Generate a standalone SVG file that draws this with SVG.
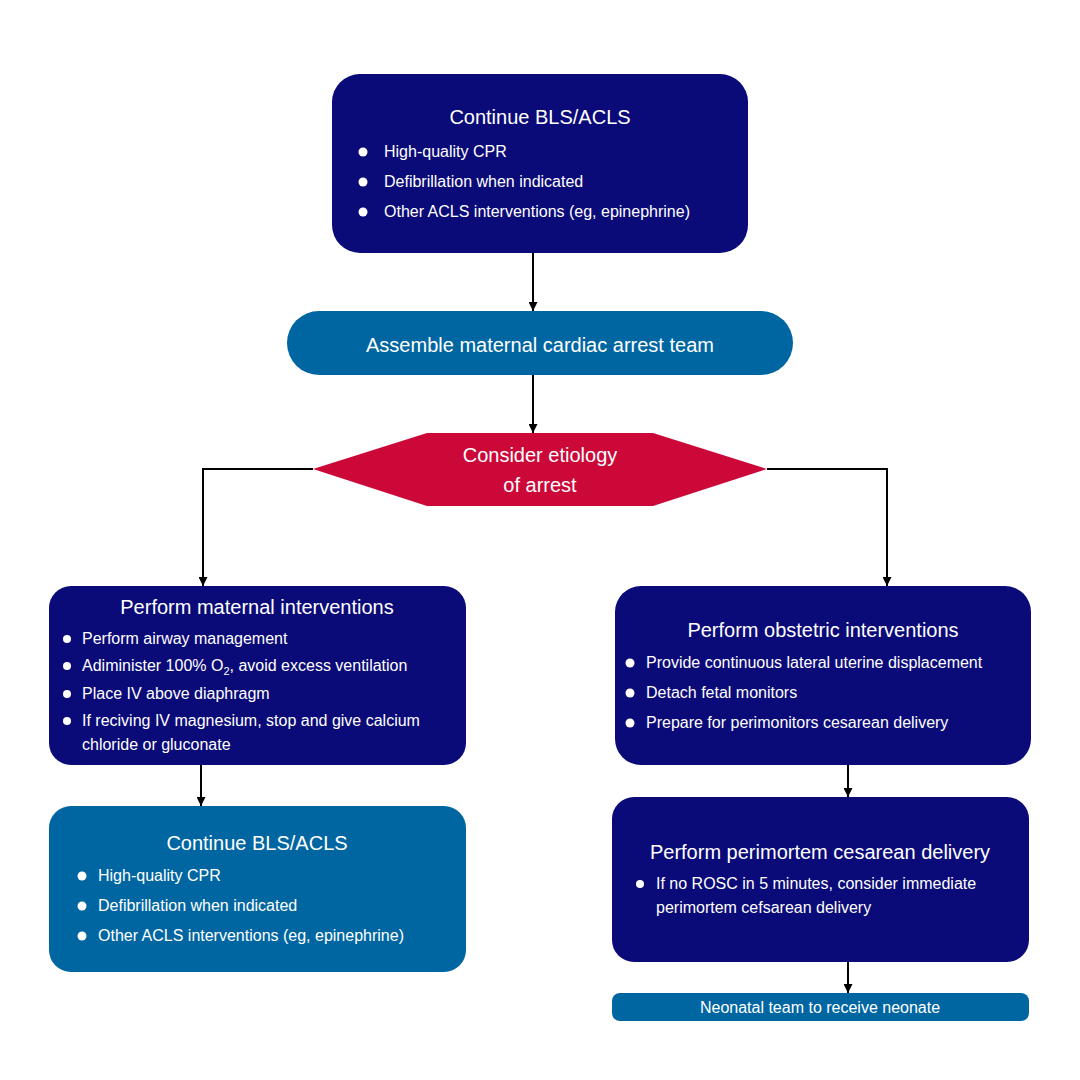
<svg xmlns="http://www.w3.org/2000/svg" width="1080" height="1080" viewBox="0 0 1080 1080">
<defs>
<marker id="ar" viewBox="0 0 10 10" refX="10" refY="5" markerWidth="9" markerHeight="9" markerUnits="userSpaceOnUse" orient="auto"><path d="M0,0L10,5L0,10z" fill="#000"/></marker>
<style>
text{font-family:"Liberation Sans",Arial,sans-serif;fill:#fff}
.t{font-size:20px;text-anchor:middle}
.b{font-size:16px}
.n{fill:#0a0a78}.u{fill:#0066a1}
.c{stroke:#000;stroke-width:2;fill:none;marker-end:url(#ar)}
</style>
</defs>
<rect width="1080" height="1080" fill="#fff"/>
<g id="connectors">
<path class="c" d="M533,253V311"/>
<path class="c" d="M533,375V433"/>
<path class="c" d="M313,469H203V586"/>
<path class="c" d="M767,469H887V586"/>
<path class="c" d="M201,765V806"/>
<path class="c" d="M848,765V797"/>
<path class="c" d="M848,962V993"/>
</g>
<g id="n1"><rect class="n" x="332" y="74" width="416" height="179" rx="28"/>
<text class="t" x="540" y="124">Continue BLS/ACLS</text>
<g fill="#fff"><circle cx="363" cy="152" r="4.5"/><circle cx="363" cy="182" r="4.5"/><circle cx="363" cy="212" r="4.5"/></g>
<text class="b" x="384" y="157">High-quality CPR</text>
<text class="b" x="384" y="187">Defibrillation when indicated</text>
<text class="b" x="384" y="217">Other ACLS interventions (eg, epinephrine)</text></g>
<g id="n2"><rect class="u" x="287" y="311" width="506" height="64" rx="32"/>
<text class="t" x="540" y="352">Assemble maternal cardiac arrest team</text></g>
<g id="n3"><polygon fill="#cc0839" points="313,469 427,433 653,433 767,469 653,506 427,506"/>
<text class="t" x="540" y="462">Consider etiology</text>
<text class="t" x="540" y="492">of arrest</text></g>
<g id="n4"><rect class="n" x="49" y="586" width="417" height="179" rx="22"/>
<text class="t" x="257" y="614">Perform maternal interventions</text>
<g fill="#fff"><circle cx="67" cy="639" r="4"/><circle cx="67" cy="666" r="4"/><circle cx="67" cy="694" r="4"/><circle cx="67" cy="721" r="4"/></g>
<text class="b" x="82" y="644">Perform airway management</text>
<text class="b" x="82" y="671">Adiminister 100% O<tspan font-size="11" dy="4">2</tspan><tspan dy="-4">, avoid excess ventilation</tspan></text>
<text class="b" x="82" y="699">Place IV above diaphragm</text>
<text class="b" x="82" y="726">If reciving IV magnesium, stop and give calcium</text>
<text class="b" x="82" y="750">chloride or gluconate</text></g>
<g id="n5"><rect class="u" x="49" y="806" width="417" height="166" rx="22"/>
<text class="t" x="257" y="850">Continue BLS/ACLS</text>
<g fill="#fff"><circle cx="82" cy="876" r="4.5"/><circle cx="82" cy="906" r="4.5"/><circle cx="82" cy="936" r="4.5"/></g>
<text class="b" x="98" y="881">High-quality CPR</text>
<text class="b" x="98" y="911">Defibrillation when indicated</text>
<text class="b" x="98" y="941">Other ACLS interventions (eg, epinephrine)</text></g>
<g id="n6"><rect class="n" x="615" y="586" width="416" height="179" rx="26"/>
<text class="t" x="823" y="637">Perform obstetric interventions</text>
<g fill="#fff"><circle cx="630" cy="663" r="4.5"/><circle cx="630" cy="693" r="4.5"/><circle cx="630" cy="723" r="4.5"/></g>
<text class="b" x="646" y="668">Provide continuous lateral uterine displacement</text>
<text class="b" x="646" y="698">Detach fetal monitors</text>
<text class="b" x="646" y="728">Prepare for perimonitors cesarean delivery</text></g>
<g id="n7"><rect class="n" x="612" y="797" width="417" height="165" rx="22"/>
<text class="t" x="820" y="859">Perform perimortem cesarean delivery</text>
<circle cx="640" cy="884" r="4" fill="#fff"/>
<text class="b" x="656" y="889">If no ROSC in 5 minutes, consider immediate</text>
<text class="b" x="656" y="913">perimortem cefsarean delivery</text></g>
<g id="n8"><rect class="u" x="612" y="993" width="417" height="28" rx="8"/>
<text x="820" y="1013" font-size="16" text-anchor="middle">Neonatal team to receive neonate</text></g>
</svg>
